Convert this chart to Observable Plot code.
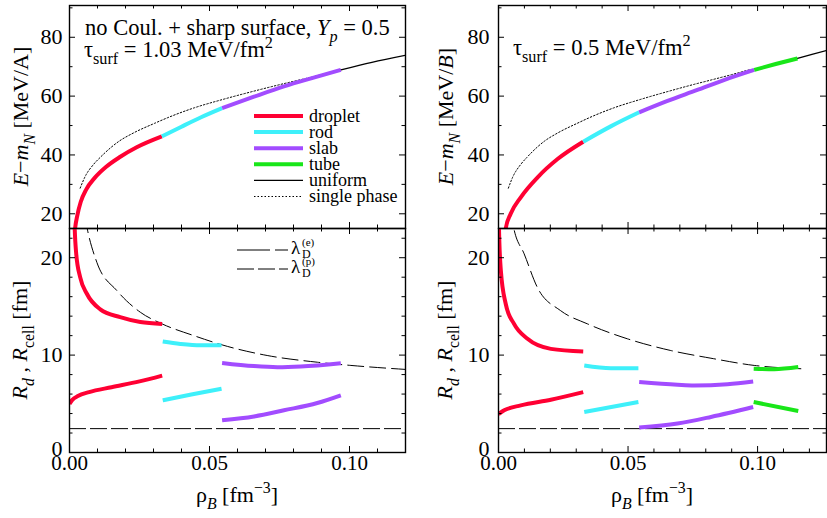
<!DOCTYPE html>
<html><head><meta charset="utf-8">
<script src="https://cdn.jsdelivr.net/npm/d3@7"></script>
<script src="https://cdn.jsdelivr.net/npm/@observablehq/plot@0.6"></script>
<style>
html,body{margin:0;padding:0;background:#fff;}
#chart{position:relative;width:827px;height:518px;overflow:hidden;font-family:"Liberation Serif","DejaVu Serif",serif;}
#chart > svg, #chart > figure{position:absolute;margin:0;}
#chart text{font-family:"Liberation Serif","DejaVu Serif",serif;}
</style></head><body><div id="chart"></div>
<script>
// ---------- tick values ----------
const xMajor = [0, 0.05, 0.10];
const xMajorLabels = ["0.00", "0.05", "0.10"];
const xMinor = [0.01, 0.02, 0.03, 0.04, 0.06, 0.07, 0.08, 0.09, 0.11, 0.12];
const yTopMajor = [20, 40, 60, 80];
const yTopLabels = ["20", "40", "60", "80"];
const yTopMinor = [30, 50, 70, 90];
const yBotMajor = [0, 10, 20];
const yBotLabels = ["0", "10", "20"];
const yBotMinor = [2, 4, 6, 8, 12, 14, 16, 18, 22];

// ---------- colours / legend ----------
const phaseNames = ["droplet", "rod", "slab", "tube", "uniform", "single phase"];
const phaseColors = ["#ff0033", "#3ef0fa", "#a24cff", "#19e619", "#000000", "#000000"];

// ---------- top-left: E - m_N, tau_surf = 1.03 ----------
const eDropletL = [[0.0017,12.0],[0.002,15.0],[0.0028,19.5],[0.004,24.0],[0.006,28.3],[0.009,32.2],[0.013,35.9],[0.018,39.3],[0.024,42.6],[0.033,46.3]];
const eRodL = [[0.033,46.3],[0.040,49.6],[0.047,52.8],[0.0545,55.9]];
const eSlabL = [[0.0545,55.9],[0.0659,59.8],[0.0766,63.3],[0.0869,66.2],[0.0969,68.9]];
const eUniformL = [[0.0969,68.9],[0.108,71.5],[0.12,73.9]];
const eSingle = [[0.0038,28.7],[0.0055,32.5],[0.0086,36.8],[0.011,39.2],[0.0176,44.6],[0.0229,47.5],[0.0305,50.8],[0.0349,52.6],[0.0445,56.0],[0.0545,58.8],[0.0655,61.6],[0.0755,64.0],[0.0826,65.6],[0.09,67.3],[0.097,69.0]];

// ---------- top-right: tau_surf = 0.5 ----------
const eDropletR = [[0.0025,12.5],[0.0028,15.0],[0.0047,20.0],[0.0086,25.6],[0.0151,32.4],[0.0228,38.6],[0.0327,44.5]];
const eRodR = [[0.0327,44.5],[0.0435,49.8],[0.0543,54.5]];
const eSlabR = [[0.0543,54.5],[0.065,58.3],[0.0765,62.0],[0.0875,65.6],[0.0987,68.9]];
const eTubeR = [[0.0987,68.9],[0.107,70.9],[0.1154,72.8]];
const eUniformR = [[0.1154,72.8],[0.121,74.2],[0.127,75.6]];

// ---------- bottom-left: R_d, R_cell ----------
const rCellDropL = [[0.0015,27],[0.0018,23.5],[0.0024,20.4],[0.0038,18.0],[0.0062,16.3],[0.011,14.7],[0.0181,13.9],[0.0253,13.4],[0.0331,13.2]];
const rDropL = [[0,5.0],[0.001,5.4],[0.003,5.8],[0.007,6.2],[0.015,6.7],[0.025,7.3],[0.0331,7.9]];
const rCellRodL = [[0.0333,11.4],[0.0396,11.15],[0.0468,11.0],[0.0543,11.0]];
const rRodL = [[0.0333,5.35],[0.0435,5.95],[0.0543,6.55]];
const rCellSlabL = [[0.0545,9.2],[0.0659,8.87],[0.0742,8.76],[0.0826,8.83],[0.0969,9.17]];
const rSlabL = [[0.0545,3.3],[0.0659,3.7],[0.0766,4.33],[0.0885,5.08],[0.0969,5.87]];
const lambdaEL = [[0.0055,24.2],[0.0065,22.75],[0.0098,19.5],[0.017,16.6],[0.0253,14.4],[0.0331,13.2],[0.0444,12.0],[0.0545,11.05],[0.0706,9.96],[0.0885,9.27],[0.1005,8.94],[0.12,8.53]];

// ---------- bottom-right ----------
const rCellDropR = [[0.00005,25],[0.0002,22.9],[0.0009,18.7],[0.0028,15.25],[0.006,13.2],[0.0112,11.67],[0.0202,10.64],[0.0327,10.37]];
const rDropR = [[0,3.95],[0.0022,4.33],[0.0086,4.84],[0.0202,5.42],[0.0327,6.2]];
const rCellRodR = [[0.0331,8.94],[0.0434,8.66],[0.054,8.66]];
const rRodR = [[0.0331,4.16],[0.054,5.18]];
const rCellSlabR = [[0.0543,7.23],[0.0691,6.96],[0.0755,6.89],[0.0884,7.02],[0.0983,7.3]];
const rSlabR = [[0.0543,2.56],[0.0691,2.97],[0.082,3.65],[0.0983,4.67]];
const rCellTubeR = [[0.0985,8.6],[0.1064,8.55],[0.1157,8.77]];
const rTubeR = [[0.0985,5.18],[0.1157,4.26]];
const lambdaER = [[0.0045,25],[0.006,22.9],[0.0099,20.4],[0.015,16.95],[0.024,14.56],[0.0344,13.2],[0.0498,11.67],[0.0665,10.47],[0.082,9.68],[0.0987,8.94],[0.1167,8.6]];

const lambdaP = [2.45];

// ---------- helpers ----------
const FONT = "'Liberation Serif','DejaVu Serif',serif";
const chart = d3.select("#chart");

function thick(data, color) {
  return Plot.line(data, {x: d => d[0], y: d => d[1], stroke: color, strokeWidth: 4, curve: "monotone-x", clip: true, strokeLinecap: "butt"});
}
function thin(data, dash, w = 1.2) {
  return Plot.line(data, {x: d => d[0], y: d => d[1], stroke: "black", strokeWidth: w, strokeDasharray: dash, curve: "monotone-x", clip: true});
}

function panel(o) {
  const iw = o.width - o.ml - o.mr, ih = o.height - o.mt - o.mb;
  const lab = d => o.yLabels[o.yMajor.indexOf(d)];
  const marks = [
    ...o.marks,
    Plot.frame({stroke: "black", strokeWidth: 1.4}),
    Plot.ruleX(xMajor, {x: d => d, insetTop: ih - 6}),
    Plot.ruleX(xMajor, {x: d => d, insetBottom: ih - 6}),
    Plot.ruleX(xMinor.filter(v => v < o.xDomain[1]), {x: d => d, insetTop: ih - 3.5}),
    Plot.ruleX(xMinor.filter(v => v < o.xDomain[1]), {x: d => d, insetBottom: ih - 3.5}),
    Plot.ruleY(o.yMajor, {y: d => d, insetRight: iw - 6}),
    Plot.ruleY(o.yMajor, {y: d => d, insetLeft: iw - 6}),
    Plot.ruleY(o.yMinor, {y: d => d, insetRight: iw - 3.5}),
    Plot.ruleY(o.yMinor, {y: d => d, insetLeft: iw - 3.5}),
    Plot.axisY({ticks: o.yMajor.filter(v => v > o.yDomain[0]), tickFormat: lab, tickSize: 0, tickPadding: o.yPad, label: null, fontSize: 22})
  ];
  // the label sitting on the bottom frame is raised slightly, as in the reference
  if (o.yMajor.includes(o.yDomain[0])) marks.push(Plot.axisY({ticks: [o.yDomain[0]], tickFormat: lab, tickSize: 0, tickPadding: o.yPad, label: null, fontSize: 22, dy: -4}));
  if (o.showX) marks.push(Plot.axisX({ticks: xMajor, tickFormat: d => xMajorLabels[xMajor.indexOf(d)], tickSize: 0, tickPadding: 3, label: null, fontSize: 21}));
  const p = Plot.plot({
    width: o.width, height: o.height,
    marginLeft: o.ml, marginRight: o.mr, marginTop: o.mt, marginBottom: o.mb,
    x: {domain: o.xDomain, ...(o.showX ? {} : {axis: null})},
    y: {domain: o.yDomain},
    style: {fontFamily: FONT, fontSize: "21px", background: "transparent", overflow: "visible", color: "black"},
    marks
  });
  p.style.left = o.left + "px";
  p.style.top = o.top + "px";
  chart.node().appendChild(p);
}

const red = phaseColors[0], cyan = phaseColors[1], purple = phaseColors[2], green = phaseColors[3];

// top-left
panel({left: 0, top: 0, width: 410, height: 230, ml: 69, mr: 5, mt: 5, mb: 2, xDomain: [0, 0.12], yDomain: [15, 90.8],
  yMajor: yTopMajor, yLabels: yTopLabels, yMinor: yTopMinor, yPad: 7, showX: false,
  marks: [thin(eSingle, "1.5,2", 1), thin(eUniformL, null, 1.3), thick(eDropletL, red), thick(eRodL, cyan), thick(eSlabL, purple)]});
// bottom-left
panel({left: 0, top: 226, width: 410, height: 292, ml: 69, mr: 5, mt: 2, mb: 66, xDomain: [0, 0.12], yDomain: [0, 23],
  yMajor: yBotMajor, yLabels: yBotLabels, yMinor: yBotMinor, yPad: 7, showX: true,
  marks: [thin(lambdaEL, "16,6", 1), Plot.ruleY(lambdaP, {y: d => d, stroke: "black", strokeWidth: 1, strokeDasharray: "17,4"}),
    thick(rCellDropL, red), thick(rDropL, red), thick(rCellRodL, cyan), thick(rRodL, cyan), thick(rCellSlabL, purple), thick(rSlabL, purple)]});
// top-right
panel({left: 410, top: 0, width: 417, height: 230, ml: 88, mr: 1, mt: 5, mb: 2, xDomain: [0, 0.1266], yDomain: [15, 90.8],
  yMajor: yTopMajor, yLabels: yTopLabels, yMinor: yTopMinor, yPad: 9, showX: false,
  marks: [thin(eSingle, "1.5,2", 1), thin(eUniformR, null, 1.3), thick(eDropletR, red), thick(eRodR, cyan), thick(eSlabR, purple), thick(eTubeR, green)]});
// bottom-right
panel({left: 410, top: 226, width: 417, height: 292, ml: 88, mr: 1, mt: 2, mb: 66, xDomain: [0, 0.1266], yDomain: [0, 23],
  yMajor: yBotMajor, yLabels: yBotLabels, yMinor: yBotMinor, yPad: 9, showX: true,
  marks: [thin(lambdaER, "16,6", 1), Plot.ruleY(lambdaP, {y: d => d, stroke: "black", strokeWidth: 1, strokeDasharray: "17,4"}),
    thick(rCellDropR, red), thick(rDropR, red), thick(rCellRodR, cyan), thick(rRodR, cyan), thick(rCellSlabR, purple), thick(rSlabR, purple), thick(rCellTubeR, green), thick(rTubeR, green)]});

// ---------- overlay: titles, annotations, legends ----------
const ov = chart.append("svg").attr("width", 827).attr("height", 518)
  .style("left", "0px").style("top", "0px").style("pointer-events", "none")
  .style("font-family", FONT).attr("fill", "black");

function rich(x, y, parts, size, opts = {}) {
  const t = ov.append("text").attr("x", x).attr("y", y).attr("font-size", size)
    .attr("text-anchor", opts.anchor || "start");
  if (opts.rotate) t.attr("transform", `rotate(${opts.rotate},${x},${y})`);
  let cur = 0;
  for (const p of parts) {
    const shift = p.sub ? size * 0.3 : p.sup ? -size * 0.42 : 0;
    const ts = t.append("tspan").text(p.t).attr("dy", shift - cur)
      .attr("font-size", (p.sub || p.sup) ? size * 0.72 : size);
    if (p.i) ts.attr("font-style", "italic");
    if (p.x != null) ts.attr("x", p.x);
    cur = shift;
  }
  return t;
}

// y titles
const eTitle = (u) => [{t: "E", i: true}, {t: "\u2212"}, {t: "m", i: true}, {t: "N", i: true, sub: true}, {t: " [MeV/"}, {t: u, i: u === "B"}, {t: "]"}];
rich(28, 116.5, eTitle("A"), 22, {anchor: "middle", rotate: -90});
rich(453, 116.5, eTitle("B"), 22, {anchor: "middle", rotate: -90});
const rTitle = [{t: "R", i: true}, {t: "d", i: true, sub: true}, {t: " , "}, {t: "R", i: true}, {t: "cell", sub: true}, {t: "  [fm]"}];
rich(27, 340, rTitle, 22, {anchor: "middle", rotate: -90});
rich(452, 340, rTitle, 22, {anchor: "middle", rotate: -90});
// x titles
const xTitle = [{t: "\u03C1"}, {t: "B", i: true, sub: true}, {t: " [fm"}, {t: "\u22123", sup: true}, {t: "]"}];
rich(237, 502, xTitle, 22, {anchor: "middle"});
rich(652, 502, xTitle, 22, {anchor: "middle"});

// annotations
rich(85, 35, [{t: "no Coul. + sharp surface, "}, {t: "Y", i: true}, {t: "p", i: true, sub: true}, {t: " = 0.5"}], 22.5);
rich(84, 57, [{t: "\u03C4"}, {t: "surf", sub: true}, {t: " = 1.03 MeV/fm"}, {t: "2", sup: true}], 22.5);
rich(513, 55, [{t: "\u03C4"}, {t: "surf", sub: true}, {t: " = 0.5 MeV/fm"}, {t: "2", sup: true}], 22.5);

// legend (top-left)
const legW = [4, 4, 4, 4, 1.3, 1];
const legDash = [null, null, null, null, null, "1.5,2"];
phaseNames.forEach((n, i) => {
  const y = 116 + i * 16.1;
  ov.append("line").attr("x1", 254).attr("x2", 303).attr("y1", y).attr("y2", y)
    .attr("stroke", phaseColors[i]).attr("stroke-width", legW[i]).attr("stroke-dasharray", legDash[i]);
  ov.append("text").attr("x", 309).attr("y", y + 5.5).attr("font-size", 18).text(n);
});

// legend (bottom-left)
const lamNames = ["(e)", "(p)"];
const lamDash = ["33,5", "17,4"];
lamNames.forEach((n, i) => {
  const y = 250 + i * 19;
  ov.append("line").attr("x1", 237).attr("x2", 288).attr("y1", y).attr("y2", y)
    .attr("stroke", "black").attr("stroke-width", 1).attr("stroke-dasharray", lamDash[i]);
  const t = ov.append("text").attr("x", 291).attr("y", y + 4).attr("font-size", 19);
  t.append("tspan").text("\u03BB");
  t.append("tspan").text(n).attr("x", 302).attr("dy", -8).attr("font-size", 11);
  t.append("tspan").text("D").attr("x", 302).attr("dy", 12).attr("font-size", 12);
});
</script></body></html>
